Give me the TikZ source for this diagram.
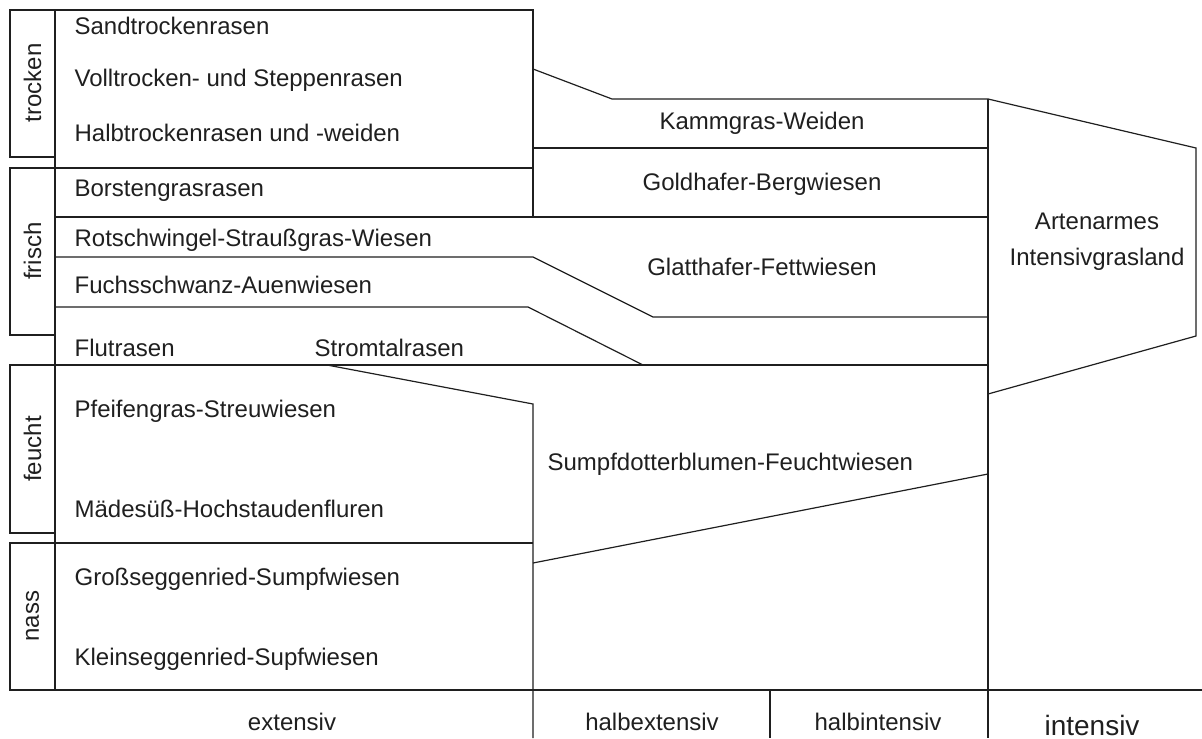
\documentclass[tikz,border=0pt]{standalone}
\usepackage{fontspec}
\setmainfont{Liberation Sans}
\begin{document}
\begin{tikzpicture}[x=0.5pt,y=-0.5pt,line width=0.6pt,
  ln/.style={draw=black!88},
  txt/.style={font=\fontsize{12}{14}\selectfont,text=black!88,inner sep=0pt,anchor=base west},
  ctxt/.style={font=\fontsize{12}{14}\selectfont,text=black!88,inner sep=0pt,anchor=base},
  side/.style={font=\fontsize{12}{14}\selectfont,text=black!88,inner sep=0pt,rotate=90,anchor=center}]
\useasboundingbox (0,0) rectangle (1202,738);

% named corner points
\coordinate (tl) at (55,10);
\coordinate (tr) at (533,10);
\coordinate (bl) at (55,690);

% moisture label boxes
\draw[ln] (10,10) rectangle (55,157);
\draw[ln] (10,168) rectangle (55,335);
\draw[ln] (10,365) rectangle (55,533);
\draw[ln] (10,543) rectangle (55,690);
\node[side] (trocken) at (32.5,83) {trocken};
\node[side] (frisch) at (32.5,251) {frisch};
\node[side] (feucht) at (32.5,449) {feucht};
\node[side] (nass) at (32.5,616) {nass};

% main frame
\draw[ln] (tl) -- (tr) -- (533,217);
\draw[ln] (tl) -- (bl);
\draw[ln] (55,168) -- (533,168);
\draw[ln] (533,69) -- (612,99) -- (988,99);
\draw[ln] (533,148) -- (988,148);
\draw[ln] (55,217) -- (988,217);
\draw[ln] (55,257) -- (533,257) -- (653,317) -- (988,317);
\draw[ln] (55,307) -- (528,307) -- (643,365);
\draw[ln] (55,365) -- (988,365);
\draw[ln] (327,365) -- (533,404) -- (533,738);
\draw[ln] (55,543) -- (533,543);
\draw[ln] (533,563) -- (988,474);
\draw[ln] (988,99) -- (988,738);
\draw[ln] (988,99) -- (1196,148) -- (1196,336) -- (988,394);
\draw[ln] (10,690) -- (1202,690);
\draw[ln] (770,690) -- (770,738);

% left column texts
\node[txt] (sand) at (74,35) {Sandtrockenrasen};
\node[txt] (voll) at (74,87) {Volltrocken- und Steppenrasen};
\node[txt] (halbtr) at (74,141) {Halbtrockenrasen und -weiden};
\node[txt] (borst) at (74,196) {Borstengrasrasen};
\node[txt] (rot) at (74,246) {Rotschwingel-Straußgras-Wiesen};
\node[txt] (fuchs) at (74,293) {Fuchsschwanz-Auenwiesen};
\node[txt] (flut) at (74,356) {Flutrasen};
\node[txt] (strom) at (314,356) {Stromtalrasen};
\node[txt] (pfeif) at (74,417) {Pfeifengras-Streuwiesen};
\node[txt] (maed) at (74,517) {Mädesüß-Hochstaudenfluren};
\node[txt] (gross) at (74,585) {Großseggenried-Sumpfwiesen};
\node[txt] (klein) at (74,665) {Kleinseggenried-Supfwiesen};

% middle texts
\node[ctxt] (kamm) at (762,129) {Kammgras-Weiden};
\node[ctxt] (gold) at (762,190) {Goldhafer-Bergwiesen};
\node[ctxt] (glatt) at (762,275) {Glatthafer-Fettwiesen};
\node[txt] (sumpf) at (547,470) {Sumpfdotterblumen-Feuchtwiesen};
\node[font=\fontsize{12}{18}\selectfont,text=black!88,inner sep=0pt,align=center] (arten) at (1097,242) {Artenarmes\\Intensivgrasland};

% intensity axis
\node[ctxt] (ext) at (292,730) {extensiv};
\node[ctxt] (hext) at (652,730) {halbextensiv};
\node[ctxt] (hint) at (878,730) {halbintensiv};
\node[font=\fontsize{14}{16}\selectfont,text=black!88,inner sep=0pt,anchor=base] (int) at (1092,735) {intensiv};
\end{tikzpicture}
\end{document}
